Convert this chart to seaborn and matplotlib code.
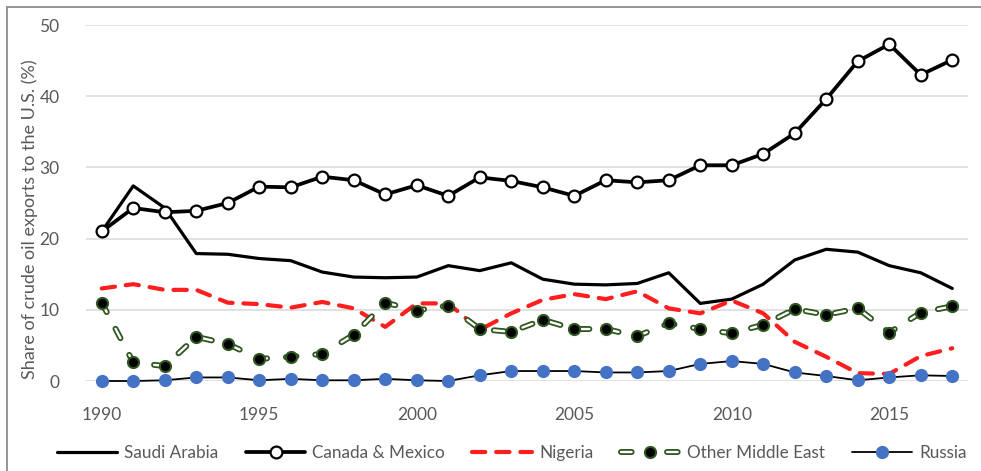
import matplotlib
matplotlib.use("Agg")
import matplotlib.pyplot as plt
import matplotlib.patheffects as pe
from matplotlib.lines import Line2D
from matplotlib.legend_handler import HandlerTuple
import pandas as pd
import seaborn as sns

years = list(range(1990, 2018))

saudi_arabia = [21.0, 27.4, 24.3, 17.9, 17.8, 17.2, 16.9, 15.3, 14.6, 14.5,
                14.6, 16.2, 15.5, 16.6, 14.3, 13.6, 13.5, 13.7, 15.2, 10.9,
                11.5, 13.6, 17.0, 18.5, 18.1, 16.2, 15.2, 13.0]
canada_mexico = [21.0, 24.3, 23.7, 23.9, 25.0, 27.3, 27.2, 28.7, 28.2, 26.2,
                 27.5, 26.0, 28.6, 28.1, 27.2, 26.0, 28.2, 27.9, 28.2, 30.3,
                 30.3, 31.9, 34.8, 39.6, 44.9, 47.3, 43.0, 45.1]
nigeria = [13.0, 13.6, 12.8, 12.8, 11.0, 10.8, 10.3, 11.1, 10.2, 7.6,
           10.9, 10.9, 7.2, 9.5, 11.4, 12.2, 11.5, 12.6, 10.2, 9.5,
           11.3, 9.5, 5.5, 3.4, 1.1, 1.0, 3.5, 4.6]
other_middle_east = [11.0, 2.6, 2.1, 6.2, 5.2, 3.1, 3.4, 3.8, 6.5, 11.0,
                     9.9, 10.6, 7.3, 6.9, 8.6, 7.3, 7.3, 6.3, 8.1, 7.3,
                     6.7, 7.9, 10.1, 9.3, 10.2, 6.8, 9.6, 10.5]
russia = [0.0, 0.0, 0.1, 0.5, 0.5, 0.1, 0.3, 0.1, 0.1, 0.3,
          0.1, 0.0, 0.8, 1.4, 1.4, 1.4, 1.2, 1.2, 1.4, 2.4,
          2.8, 2.4, 1.2, 0.7, 0.1, 0.5, 0.8, 0.7]

series_names = ["Saudi Arabia", "Canada & Mexico", "Nigeria",
                "Other Middle East", "Russia"]
x_ticks = [1990, 1995, 2000, 2005, 2010, 2015]
y_ticks = [0, 10, 20, 30, 40, 50]
y_label = "Share of crude oil exports to the U.S. (%)"

df = pd.DataFrame({
    "year": years,
    "Saudi Arabia": saudi_arabia,
    "Canada & Mexico": canada_mexico,
    "Nigeria": nigeria,
    "Other Middle East": other_middle_east,
    "Russia": russia,
})

sns.set_theme(style="white")
plt.rcParams["font.family"] = ["Lato", "DejaVu Sans"]
TXT = "#595959"
DKGREEN = "#2F5520"
RED = "#FF1E1E"
BLUE = "#4472C4"

fig = plt.figure(figsize=(9.81, 4.71), dpi=100)
ax = fig.add_axes([86 / 981, 1 - 381 / 471, (968 - 86) / 981, (381 - 25) / 471])

# Saudi Arabia: plain black line
sns.lineplot(data=df, x="year", y="Saudi Arabia", ax=ax, color="black",
             lw=2.3, legend=False, zorder=3)
l_saudi = ax.lines[-1]

# Canada & Mexico: black line with open circles
sns.lineplot(data=df, x="year", y="Canada & Mexico", ax=ax, color="black",
             lw=2.7, marker="o", markersize=8.5, markerfacecolor="white",
             markeredgecolor="black", markeredgewidth=1.6, legend=False,
             zorder=4)
l_can = ax.lines[-1]

# Nigeria: red dashed line
sns.lineplot(data=df, x="year", y="Nigeria", ax=ax, color=RED, lw=3.0,
             legend=False, zorder=5)
l_nig = ax.lines[-1]
l_nig.set_dashes((3.2, 2.6))
l_nig.set_dash_capstyle("round")

# Other Middle East: outlined hollow dashes plus black dots
ome_effects = [pe.Stroke(linewidth=4.3, foreground=DKGREEN), pe.Normal()]
sns.lineplot(data=df, x="year", y="Other Middle East", ax=ax, color="white",
             lw=1.7, legend=False, zorder=6)
l_ome = ax.lines[-1]
l_ome.set_dashes((4.5, 8.0))
l_ome.set_dash_capstyle("round")
l_ome.set_path_effects(ome_effects)
sns.lineplot(data=df, x="year", y="Other Middle East", ax=ax, lw=0,
             marker="o", markersize=8, markerfacecolor="black",
             markeredgecolor=DKGREEN, markeredgewidth=1.5, legend=False,
             zorder=7)
m_ome = ax.lines[-1]
m_ome.set_linestyle("none")

# Russia: thin black line with blue dots
sns.lineplot(data=df, x="year", y="Russia", ax=ax, color="black", lw=1.3,
             marker="o", markersize=9.5, markerfacecolor=BLUE,
             markeredgecolor=BLUE, markeredgewidth=0, legend=False, zorder=8)
l_rus = ax.lines[-1]

for ln in ax.lines:
    ln.set_clip_on(False)

ax.set_xlim(1989.5, 2017.5)
ax.set_ylim(0, 50)
ax.set_xticks(x_ticks)
ax.set_yticks(y_ticks)
ax.set_xticklabels([str(v) for v in x_ticks])
ax.set_yticklabels([str(v) for v in y_ticks])
ax.tick_params(axis="both", length=0, labelsize=12.5, colors=TXT)
ax.tick_params(axis="x", pad=19)
ax.tick_params(axis="y", pad=19)
ax.set_xlabel("")
ax.set_ylabel("")
ax.grid(axis="y", color="#D9D9D9", lw=1.1)
ax.grid(axis="x", visible=False)
ax.set_axisbelow(True)
for s in ax.spines.values():
    s.set_visible(False)

fig.text(30 / 981, 1 - 219 / 471, y_label, rotation=90, ha="center",
         va="center", fontsize=13, color=TXT)

# Legend key for the outlined dashes: one capsule either side of the dot
ome_key = Line2D([], [], color="white", lw=1.7, dashes=(4.5, 15.0),
                 dash_capstyle="round", path_effects=ome_effects)

handles = [l_saudi, l_can, l_nig, (ome_key, m_ome), l_rus]
leg = fig.legend(handles, series_names, loc="center",
                 bbox_to_anchor=(512 / 981, 1 - 453 / 471), ncol=5,
                 frameon=False, fontsize=12.3, labelcolor=TXT, numpoints=1,
                 handlelength=3.5, handletextpad=0.4, columnspacing=1.6,
                 handler_map={tuple: HandlerTuple(ndivide=1)})

# Outer chart frame (left and top edges)
fig.add_artist(Line2D([7 / 981, 7 / 981], [0, 1 - 7 / 471],
                      transform=fig.transFigure, color="#8C8C8C", lw=1.3))
fig.add_artist(Line2D([7 / 981, 1], [1 - 7 / 471, 1 - 7 / 471],
                      transform=fig.transFigure, color="#8C8C8C", lw=1.3))

fig.savefig("out.png", dpi=100)
